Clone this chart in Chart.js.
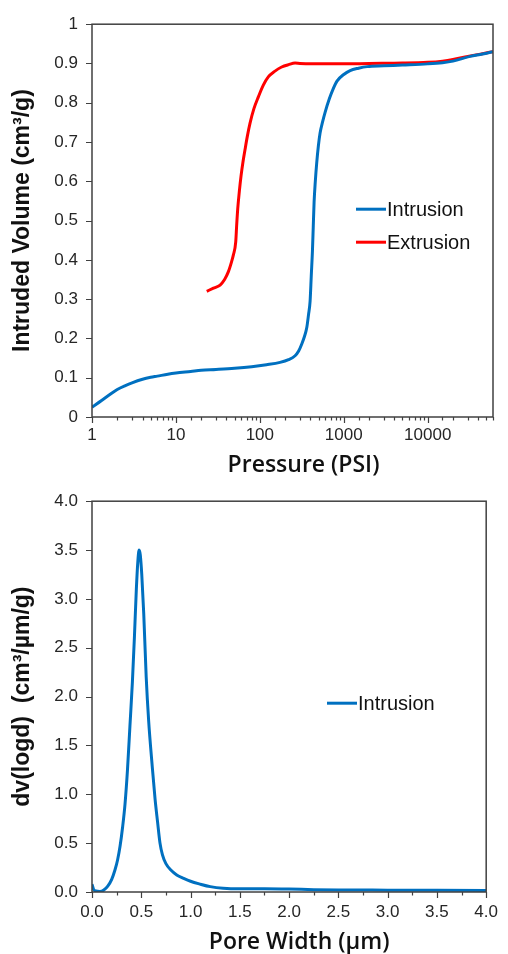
<!DOCTYPE html>
<html><head><meta charset="utf-8">
<script src="https://cdn.jsdelivr.net/npm/chart.js@4.4.0/dist/chart.umd.min.js"></script>
<style>html,body{margin:0;padding:0;background:#fff;width:508px;height:954px;overflow:hidden}canvas{display:block}</style>
</head><body>
<canvas id="c1" width="508" height="477"></canvas>
<canvas id="c2" width="508" height="477"></canvas>
<script>
// ---- data ----
const intrusionPressure = [1,1.3,1.6,2,2.5,3,4,5,6,8,10,15,20,30,50,80,120,174,220,263,290,316,340,362,380,397,410,423,433,443,458,476,498,522,560,598,673,750,830,1000,1190,1500,1900,3000,5000,10000,15000,20000,32000,45000,60000];
const intrusionVolume   = [0.025,0.042,0.056,0.07,0.08,0.087,0.096,0.101,0.104,0.109,0.112,0.116,0.119,0.121,0.124,0.128,0.133,0.139,0.146,0.156,0.168,0.186,0.205,0.227,0.26,0.295,0.36,0.421,0.485,0.547,0.6,0.647,0.69,0.723,0.752,0.775,0.81,0.836,0.855,0.872,0.882,0.888,0.892,0.894,0.896,0.899,0.902,0.906,0.918,0.924,0.93];
const extrusionPressure = [23.3,28,33.6,38,42.2,46,48.3,51.6,53,54.5,57,59.7,63,66.6,71,76.4,85,96,110,126,150,182,220,263,300,400,600,1000,2000,5000,10000,15000,20000,30000,45000,60000];
const extrusionVolume   = [0.32,0.328,0.336,0.35,0.37,0.395,0.412,0.446,0.49,0.53,0.575,0.614,0.65,0.681,0.715,0.748,0.785,0.815,0.845,0.866,0.88,0.891,0.897,0.901,0.9,0.899,0.899,0.899,0.9,0.901,0.903,0.906,0.91,0.918,0.925,0.93];
const poreWidth = [0,0.015,0.04,0.08,0.12,0.16,0.2,0.233,0.26,0.285,0.31,0.335,0.36,0.385,0.41,0.43,0.45,0.465,0.478,0.49,0.505,0.525,0.55,0.575,0.61,0.64,0.665,0.69,0.715,0.75,0.8,0.86,0.93,1.0,1.1,1.2,1.33,1.5,1.75,2.0,2.25,2.5,3.0,3.5,4.0];
const poreDist  = [0.08,0.03,0.01,0.005,0.02,0.06,0.13,0.225,0.33,0.47,0.66,0.9,1.25,1.7,2.15,2.6,3.1,3.38,3.5,3.45,3.25,2.85,2.2,1.75,1.3,0.95,0.72,0.5,0.38,0.29,0.225,0.175,0.14,0.11,0.08,0.055,0.038,0.032,0.033,0.03,0.024,0.021,0.019,0.017,0.016];
const seriesLabels = ['Intrusion','Extrusion'];
const pressureTickLabels = ['1','10','100','1000','10000'];
const volumeTickLabels = ['0','0.1','0.2','0.3','0.4','0.5','0.6','0.7','0.8','0.9','1'];
const widthTickLabels = ['0.0','0.5','1.0','1.5','2.0','2.5','3.0','3.5','4.0'];
const distTickLabels = ['0.0','0.5','1.0','1.5','2.0','2.5','3.0','3.5','4.0'];
const axisTitles = ['Pressure (PSI)', 'Intruded Volume (cm³/g)', 'Pore Width (µm)', 'dv(logd)  (cm³/µm/g)'];

const BLUE = '#0070C0', RED = '#FF0000';
const zip = (xs, ys) => xs.map((x, i) => ({x, y: ys[i]}));

Chart.defaults.font.family = "'Liberation Sans', Arial, sans-serif";
Chart.defaults.color = '#262626';
Chart.defaults.animation = false;

function framePlugin(isMajorX, xTitle, xTitleShift, xTitleBaseline) {
  return {
    id: 'frame',
    afterDraw(chart) {
      const {ctx, chartArea: a} = chart;
      const xs = chart.scales.x, ys = chart.scales.y;
      ctx.save();
      ctx.strokeStyle = '#404040';
      ctx.lineWidth = 1.5;
      ctx.strokeRect(a.left, a.top, a.right - a.left, a.bottom - a.top);
      ctx.lineWidth = 1.2;
      ctx.beginPath();
      xs.ticks.forEach(t => {
        const px = Math.round(xs.getPixelForValue(t.value)) + 0.5;
        const len = isMajorX(t.value) ? 6 : 3.5;
        ctx.moveTo(px, a.bottom); ctx.lineTo(px, a.bottom + len);
      });
      ys.ticks.forEach(t => {
        const py = Math.round(ys.getPixelForValue(t.value)) + 0.5;
        ctx.moveTo(a.left, py); ctx.lineTo(a.left - 6, py);
      });
      ctx.stroke();
      // x-axis title
      ctx.font = "600 23px 'Open Sans', sans-serif";
      ctx.fillStyle = '#111';
      ctx.textAlign = 'center';
      ctx.textBaseline = 'alphabetic';
      ctx.fillText(xTitle, (a.left + a.right) / 2 + xTitleShift, xTitleBaseline);
      ctx.restore();
    }
  };
}
function legendPlugin(dx, dy, gap) {
  return {
    id: 'inlegend',
    afterDraw(chart) {
      const {ctx, chartArea: a} = chart;
      ctx.save();
      ctx.font = "20px 'Liberation Sans', Arial, sans-serif";
      ctx.textBaseline = 'middle';
      ctx.textAlign = 'left';
      chart.data.datasets.forEach((ds, i) => {
        const x = a.left + dx, y = a.top + dy + i * gap;
        ctx.strokeStyle = ds.borderColor; ctx.lineWidth = 3;
        ctx.beginPath(); ctx.moveTo(x, y); ctx.lineTo(x + 30, y); ctx.stroke();
        ctx.fillStyle = '#111';
        ctx.fillText(ds.label, x + 31, y + 1);
      });
      ctx.restore();
    }
  };
}
const isPow10 = v => Math.abs(Math.log10(v) - Math.round(Math.log10(v))) < 1e-9;

const lineDs = (label, data, color) => ({
  label, data, borderColor: color, backgroundColor: color, borderWidth: 3,
  pointRadius: 0, tension: 0.4, cubicInterpolationMode: 'monotone', fill: false
});

new Chart(document.getElementById('c1'), {
  type: 'line',
  data: { datasets: [
    lineDs(seriesLabels[0], zip(intrusionPressure, intrusionVolume), BLUE),
    lineDs(seriesLabels[1], zip(extrusionPressure, extrusionVolume), RED)
  ]},
  options: {
    responsive: false,
    layout: { padding: { top: 20, right: 15, left: 0, bottom: 0 } },
    plugins: { legend: { display: false }, tooltip: { enabled: false } },
    scales: {
      x: {
        type: 'logarithmic', min: 1, max: 60000,
        grid: { display: false, drawTicks: false }, border: { display: false },
        ticks: { autoSkip: false, maxRotation: 0, padding: 8, font: { size: 17 },
          callback: v => { const s = String(v); return pressureTickLabels.includes(s) ? s : ''; } },
        title: { display: false },
        afterFit: s => { s.height = 60; }
      },
      y: {
        min: 0, max: 1,
        grid: { display: false, drawTicks: false }, border: { display: false },
        ticks: { stepSize: 0.1, padding: 14, font: { size: 17 },
          callback: v => volumeTickLabels[Math.round(v * 10)] },
        title: { display: true, text: axisTitles[1], padding: { top: 9, bottom: 0 },
          font: { size: 23, weight: 'bold' }, color: '#111' },
        afterFit: s => { s.width = 92; }
      }
    }
  },
  plugins: [framePlugin(isPow10, axisTitles[0], 11, 472), legendPlugin(264, 185, 33)]
});

new Chart(document.getElementById('c2'), {
  type: 'line',
  data: { datasets: [ lineDs(seriesLabels[0], zip(poreWidth, poreDist), BLUE) ] },
  options: {
    responsive: false,
    layout: { padding: { top: 24, right: 15, left: 0, bottom: 0 } },
    plugins: { legend: { display: false }, tooltip: { enabled: false } },
    scales: {
      x: {
        type: 'linear', min: 0, max: 4,
        grid: { display: false, drawTicks: false }, border: { display: false },
        ticks: { stepSize: 0.25, autoSkip: false, maxRotation: 0, padding: 10, font: { size: 17 },
          callback: v => { const i = Math.round(v * 4); return i % 2 === 0 ? widthTickLabels[i / 2] : ''; } },
        title: { display: false },
        afterFit: s => { s.height = 62; }
      },
      y: {
        min: 0, max: 4,
        grid: { display: false, drawTicks: false }, border: { display: false },
        ticks: { stepSize: 0.5, padding: 14, font: { size: 17 },
          callback: v => distTickLabels[Math.round(v * 2)] },
        title: { display: true, text: axisTitles[3], padding: { top: 9, bottom: 0 },
          font: { size: 23, weight: 'bold' }, color: '#111' },
        afterFit: s => { s.width = 92; }
      }
    }
  },
  plugins: [framePlugin(v => Math.abs(v * 2 - Math.round(v * 2)) < 1e-9, axisTitles[2], 10, 472), legendPlugin(235, 202, 0)]
});
</script>
</body></html>
